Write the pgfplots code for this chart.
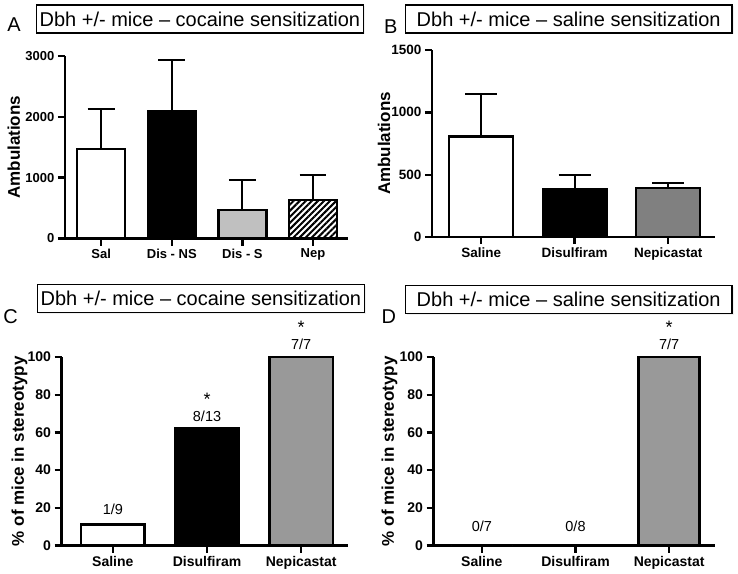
\documentclass[border=0pt]{standalone}
\usepackage{fontspec}
\setmainfont{Liberation Sans}
\usepackage{pgfplots}
\pgfplotsset{compat=1.18}
\usetikzlibrary{patterns.meta, shadows}

\definecolor{ltgray}{HTML}{C0C0C0}
\definecolor{midgray}{HTML}{808080}
\definecolor{cgray}{HTML}{999999}

\pgfplotsset{
  panel/.style={
    scale only axis,
    anchor=south west,
    axis x line*=bottom,
    axis y line*=left,
    axis line style={line width=2.4pt},
    every tick/.style={black, line width=2.4pt},
    tick align=outside,
    major tick length=7pt,
    ybar, bar shift=0pt,
    ymin=0,
    clip=false,
    scaled y ticks=false,
    /pgf/number format/assume math mode=true,
    /pgf/number format/1000 sep={},
    ylabel style={at={(axis description cs:0,0.5)}, anchor=center,
      font=\bfseries\fontsize{17}{19}\selectfont},
    every axis plot/.append style={draw=black, line width=2.4pt},
  },
  errs/.style={
    error bars/.cd, y dir=plus, y explicit,
    error bar style={line width=2pt, black},
    error mark options={rotate=90, line width=2pt, black, mark size=#1},
  },
}
\tikzset{
  ttl/.style={draw=black, line width=1.2pt, fill=white,
    minimum width=327pt, minimum height=28pt, inner sep=0pt,
    font=\fontsize{20}{22}\selectfont,
    drop shadow={opacity=0.12, shadow xshift=1.5pt, shadow yshift=-1.5pt}},
  letter/.style={font=\fontsize{20}{22}\selectfont},
  note/.style={font=\fontsize{14.5}{16}\selectfont, inner sep=0pt},
  star/.style={font=\fontsize{18}{20}\selectfont, inner sep=0pt, anchor=base},
}

\begin{document}
\begin{tikzpicture}[x=1pt, y=1pt]
\path (0,0) rectangle (738,574);

% ---- A: cocaine, ambulations
\begin{axis}[panel, at={(64.3pt,335.3pt)}, width=283.7pt, height=182.7pt,
  xmin=0.484, xmax=4.5, ymax=3000,
  bar width=48pt,
  xtick={1,2,3,4}, xticklabels={Sal, Dis - NS, Dis - S, Nep},
  ytick={0,1000,2000,3000},
  ticklabel style={font=\bfseries\fontsize{13}{15}\selectfont},
  ylabel={Ambulations}, ylabel style={yshift=51pt}]
\addplot[fill=white, errs=13.5pt] coordinates {(1,1473) +- (0,652)};
\addplot[fill=black, errs=13.5pt] coordinates {(2,2085) +- (0,849)};
\addplot[fill=ltgray, errs=13.5pt] coordinates {(3,471) +- (0,493)};
\addplot[pattern={Lines[angle=45, distance=4.3pt, line width=2pt]}, pattern color=black, errs=13.5pt] coordinates {(4,635) +- (0,411)};
\end{axis}

% ---- B: saline, ambulations
\begin{axis}[panel, at={(431.7pt,336.7pt)}, width=283.3pt, height=187.3pt,
  xmin=0.474, xmax=3.5, ymax=1500,
  bar width=64pt,
  xtick={1,2,3}, xticklabels={Saline, Disulfiram, Nepicastat},
  ytick={0,500,1000,1500},
  ticklabel style={font=\bfseries\fontsize{13.5}{15}\selectfont},
  ylabel={Ambulations}, ylabel style={yshift=48pt}]
\addplot[fill=white, errs=16pt] coordinates {(1,806) +- (0,339)};
\addplot[fill=black, errs=16pt] coordinates {(2,387) +- (0,112)};
\addplot[fill=midgray, errs=16pt] coordinates {(3,392) +- (0,43)};
\end{axis}

% ---- C: cocaine, stereotypy
\begin{axis}[panel, at={(61pt,28pt)}, width=287pt, height=188.7pt,
  xmin=0.455, xmax=3.5, ymax=100,
  bar width=63.5pt,
  xtick={1,2,3}, xticklabels={Saline, Disulfiram, Nepicastat},
  ytick={0,20,40,60,80,100},
  ticklabel style={font=\bfseries\fontsize{14}{16}\selectfont},
  ylabel={\% of mice in stereotypy}, ylabel style={yshift=42pt}]
\addplot[fill=white] coordinates {(1,11.1)};
\addplot[fill=black] coordinates {(2,62)};
\addplot[fill=cgray] coordinates {(3,100)};
\node[note] at (axis cs:1,19.1) {1/9};
\node[note] at (axis cs:2,68.5) {8/13};
\node[star] at (axis cs:2,74.2) {*};
\node[note] at (axis cs:3,106.9) {7/7};
\node[star] at (axis cs:3,112.4) {*};
\end{axis}

% ---- D: saline, stereotypy
\begin{axis}[panel, at={(433.3pt,28pt)}, width=281.7pt, height=188.7pt,
  xmin=0.484, xmax=3.49, ymax=100,
  bar width=61pt,
  xtick={1,2,3}, xticklabels={Saline, Disulfiram, Nepicastat},
  ytick={0,20,40,60,80,100},
  ticklabel style={font=\bfseries\fontsize{14}{16}\selectfont},
  ylabel={\% of mice in stereotypy}, ylabel style={yshift=44pt}]
\addplot[fill=white] coordinates {(1,0)};
\addplot[fill=black] coordinates {(2,0)};
\addplot[fill=cgray] coordinates {(3,100)};
\node[note] at (axis cs:1,10.2) {0/7};
\node[note] at (axis cs:2,10.2) {0/8};
\node[note] at (axis cs:3,106.9) {7/7};
\node[star] at (axis cs:3,112.4) {*};
\end{axis}

% panel titles and letters
\node[ttl] at (199.5,555) {Dbh +/- mice – cocaine sensitization};
\node[ttl] at (568.5,555) {Dbh +/- mice – saline sensitization};
\node[ttl] at (200.5,275) {Dbh +/- mice – cocaine sensitization};
\node[ttl] at (568.5,274) {Dbh +/- mice – saline sensitization};
\node[letter] at (13.5,549) {A};
\node[letter] at (390.5,547) {B};
\node[letter] at (10,257) {C};
\node[letter] at (388.5,257) {D};
\end{tikzpicture}
\end{document}
